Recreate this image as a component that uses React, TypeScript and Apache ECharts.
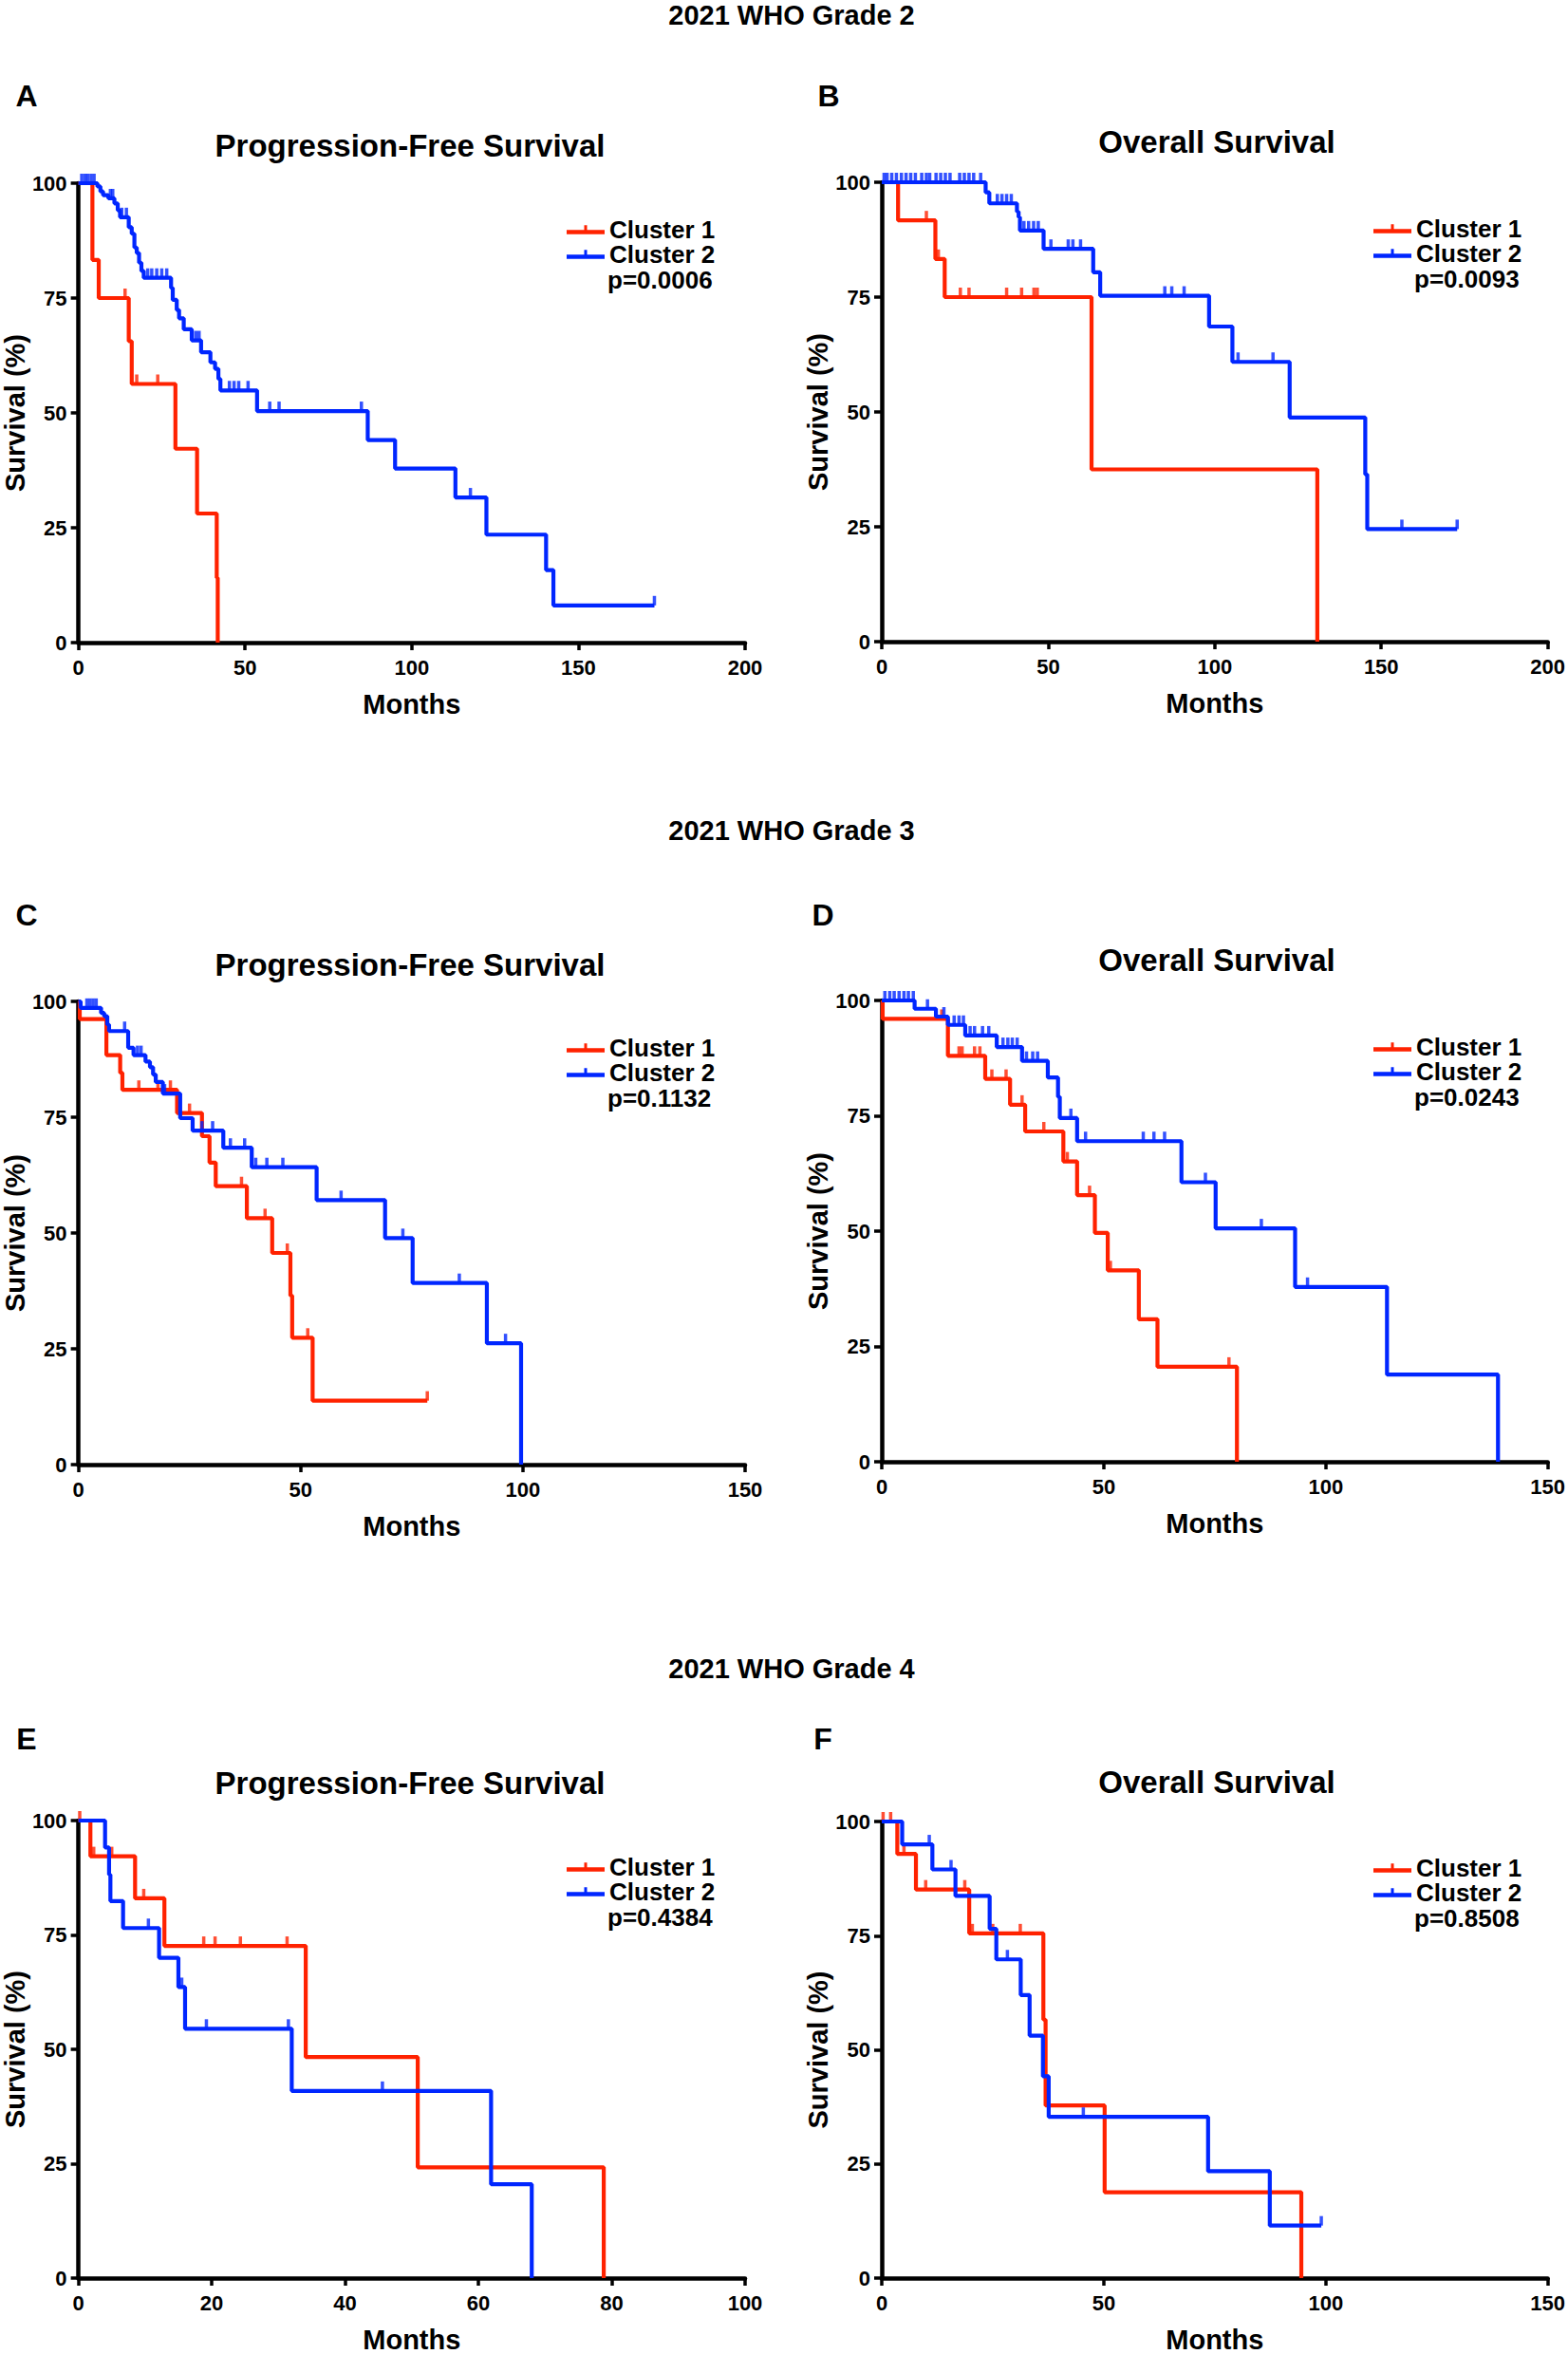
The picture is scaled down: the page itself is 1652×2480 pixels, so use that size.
import React, { useEffect, useRef } from "react";
import * as echarts from "echarts";

const FONT = '"Liberation Sans", Arial, Helvetica, sans-serif';
const RED = "#FF2200";
const BLUE = "#0026FF";

// ---------- text content ----------
const gradeHeadings = ["2021 WHO Grade 2", "2021 WHO Grade 3", "2021 WHO Grade 4"];
const panelLetters = ["A", "B", "C", "D", "E", "F"];
const panelTitles = [
  "Progression-Free Survival",
  "Overall Survival",
  "Progression-Free Survival",
  "Overall Survival",
  "Progression-Free Survival",
  "Overall Survival",
];
const pValues = ["p=0.0006", "p=0.0093", "p=0.1132", "p=0.0243", "p=0.4384", "p=0.8508"];
const seriesNames = ["Cluster 1", "Cluster 2"];
const xAxisTitle = "Months";
const yAxisTitle = "Survival (%)";
const xMaxes = [200, 200, 150, 150, 100, 150];
const xIntervals = [50, 50, 50, 50, 20, 50];
const yMax = 100;
const yInterval = 25;

// ---------- Kaplan-Meier step points [month, survival %] ----------
// A: Grade 2 PFS
const aCluster1 = [[0, 100], [4.2, 83.3], [6.1, 75], [15.1, 65.6], [16, 56.3], [29.1, 42.2], [35.6, 28.1], [41.5, 14.1], [41.8, 0]];
const aCluster1Censor = [[14, 75], [17.5, 56.3], [23.8, 56.3]];
const aCluster2 = [[0, 100], [5.7, 99.3], [6.6, 98.2], [7.4, 97.4], [9, 96.7], [10.8, 95.6], [11.8, 94.1], [12.5, 92.6], [15.1, 90.4], [16, 89], [16.8, 86], [17.5, 84.8], [18.2, 82.7], [18.9, 80.9], [19.6, 79.4], [27.8, 77.2], [28.3, 74.6], [29.5, 72.4], [30.2, 70.6], [31.6, 68.2], [34, 65.8], [36.8, 63.2], [39.6, 61], [41, 59.6], [42, 57.4], [42.6, 54.9], [53.6, 50.4], [86.8, 44.1], [95, 37.9], [113.1, 31.6], [122.4, 23.5], [140.3, 15.8], [142.5, 8.1], [172.8, 8.1]];
const aCluster2Censor = [[1, 100], [2, 100], [2.8, 100], [3.8, 100], [4.7, 100], [9.6, 96.7], [10.3, 96.7], [13, 92.6], [14.4, 92.6], [20.8, 79.4], [22, 79.4], [23.5, 79.4], [25, 79.4], [26.5, 79.4], [35.2, 65.8], [36.2, 65.8], [45.3, 54.9], [46.7, 54.9], [48.1, 54.9], [50.9, 54.9], [57.4, 50.4], [60.2, 50.4], [84.9, 50.4], [117.6, 31.6], [172.8, 8.1]];

// B: Grade 2 OS
const bCluster1 = [[0, 100], [4.9, 91.7], [16.1, 83.3], [18.9, 75], [63, 37.5], [130.8, 0]];
const bCluster1Censor = [[13.4, 91.7], [17, 83.3], [23.6, 75], [26.2, 75], [37.5, 75], [42, 75], [45.7, 75], [46.7, 75]];
const bCluster2 = [[0, 100], [31.2, 97.8], [32.3, 95.4], [40.6, 93.6], [41.1, 92.4], [41.5, 89.5], [48.6, 85.5], [63.5, 80.4], [65.6, 75.3], [98.3, 68.6], [105.3, 60.9], [122.5, 48.8], [145.2, 36.4], [145.8, 24.5], [172.8, 24.5]];
const bCluster2Censor = [[0.7, 100], [1.6, 100], [3, 100], [4.4, 100], [5.9, 100], [7.3, 100], [8.7, 100], [10.1, 100], [12, 100], [13.4, 100], [14.4, 100], [16.3, 100], [17.7, 100], [19.1, 100], [20.5, 100], [23.4, 100], [24.8, 100], [26.2, 100], [27.6, 100], [29.7, 100], [34.7, 95.4], [36.1, 95.4], [37.5, 95.4], [38.9, 95.4], [42.7, 89.5], [44.1, 89.5], [45.6, 89.5], [47, 89.5], [50.8, 85.5], [56, 85.5], [57.4, 85.5], [59.7, 85.5], [85, 75.3], [87.1, 75.3], [90.8, 75.3], [107, 60.9], [117.5, 60.9], [156.2, 24.5], [172.8, 24.5]];

// C: Grade 3 PFS
const cCluster1 = [[0, 100], [0.3, 96.2], [6.3, 88.4], [9.4, 84.6], [9.9, 80.9], [22.2, 75.9], [27.8, 70.9], [29.5, 65.2], [30.9, 60.1], [37.9, 53.2], [43.6, 45.7], [47.7, 36.5], [48.1, 27.4], [52.7, 13.8], [78.5, 13.8]];
const cCluster1Censor = [[13.6, 80.9], [17.9, 80.9], [20.7, 80.9], [25, 75.9], [36.7, 60.1], [42, 53.2], [47, 45.7], [51.6, 27.4], [78.5, 13.8]];
const cCluster2 = [[0, 100], [0.5, 98.6], [5.1, 97.5], [5.8, 96.8], [6.5, 95], [6.9, 93.6], [11.2, 90], [12.4, 88.4], [15.1, 87], [16.1, 85.8], [16.8, 84.2], [17.4, 82.6], [19, 80.1], [22.9, 74.8], [25.7, 72.1], [32.6, 68.4], [39, 64.2], [53.6, 57.1], [69, 48.9], [75.2, 39.2], [91.9, 26.2], [99.6, 0]];
const cCluster2Censor = [[1.9, 98.6], [2.6, 98.6], [3.3, 98.6], [4, 98.6], [10.4, 93.6], [13.3, 88.4], [14.1, 88.4], [19.4, 80.1], [27.8, 72.1], [30.2, 72.1], [34.2, 68.4], [37.4, 68.4], [39.9, 64.2], [42.4, 64.2], [46, 64.2], [59.1, 57.1], [73, 48.9], [85.7, 39.2], [96.1, 26.2]];

// D: Grade 3 OS
const dCluster1 = [[0, 100], [0.2, 96], [14.9, 88], [23.3, 83], [28.9, 77.4], [32.3, 71.6], [40.9, 65.1], [44, 57.8], [48, 49.6], [50.9, 41.5], [57.9, 30.9], [62.1, 20.6], [80, 0]];
const dCluster1Censor = [[13.5, 96], [17.4, 88], [18.1, 88], [20.9, 88], [22.1, 88], [24.8, 83], [28, 83], [31.6, 77.4], [36.5, 71.6], [41.8, 65.1], [46.8, 57.8], [51.5, 41.5], [78.2, 20.6]];
const dCluster2 = [[0, 100], [7.4, 98.2], [12.2, 96.5], [14.9, 94.7], [18.8, 92.4], [25.9, 89.9], [31.6, 86.9], [37.4, 83.3], [39.7, 79.1], [40.1, 74.5], [44, 69.5], [67.5, 60.6], [75.2, 50.6], [93.1, 37.9], [113.8, 18.9], [138.8, 0]];
const dCluster2Censor = [[0.7, 100], [1.8, 100], [2.8, 100], [3.9, 100], [5, 100], [6, 100], [7.1, 100], [10.3, 98.2], [14, 96.5], [16.3, 94.7], [17.4, 94.7], [18.4, 94.7], [19.9, 92.4], [20.9, 92.4], [22.7, 92.4], [24.1, 92.4], [27.3, 89.9], [28.4, 89.9], [29.4, 89.9], [30.5, 89.9], [32.6, 86.9], [34, 86.9], [35.1, 86.9], [42.6, 74.5], [45.9, 69.5], [58.9, 69.5], [61.3, 69.5], [63.7, 69.5], [72.9, 60.6], [85.5, 50.6], [95.9, 37.9]];

// E: Grade 4 PFS
const eCluster1 = [[0, 100], [1.8, 92.2], [8.5, 83], [12.9, 72.6], [34.1, 48.3], [50.9, 24.2], [78.8, 0]];
const eCluster1Censor = [[0.2, 100], [2.3, 92.2], [5, 92.2], [9.8, 83], [18.8, 72.6], [20.5, 72.6], [24.3, 72.6], [31.3, 72.6]];
const eCluster2 = [[0, 100], [4, 94.1], [4.6, 88.2], [4.8, 82.4], [6.7, 76.5], [12.1, 70], [15, 63.6], [16, 54.5], [32, 40.9], [61.9, 20.5], [68, 0]];
const eCluster2Censor = [[10.5, 76.5], [15.5, 63.6], [19.2, 54.5], [31.5, 54.5], [45.6, 40.9]];

// F: Grade 4 OS
const fCluster1 = [[0, 100], [3.5, 92.9], [7.7, 85.1], [19.7, 75.5], [36.4, 56.6], [36.9, 37.8], [50.2, 18.8], [94.5, 0]];
const fCluster1Censor = [[0.3, 100], [2, 100], [5, 92.9], [9.9, 85.1], [18.7, 85.1], [20.4, 75.5], [25, 75.5], [31.2, 75.5]];
const fCluster2 = [[0, 100], [4.6, 95], [11.4, 89.5], [16.6, 83.7], [24.3, 76.5], [25.8, 69.8], [31.3, 62], [33.3, 53.1], [36.3, 44.2], [37.6, 35.3], [73.5, 23.4], [87.4, 11.5], [99, 11.5]];
const fCluster2Censor = [[10.7, 95], [15.6, 89.5], [28.3, 69.8], [45.4, 35.3], [99, 11.5]];

const panelCurves = [
  [aCluster1, aCluster2],
  [bCluster1, bCluster2],
  [cCluster1, cCluster2],
  [dCluster1, dCluster2],
  [eCluster1, eCluster2],
  [fCluster1, fCluster2],
];
const panelCensors = [
  [aCluster1Censor, aCluster2Censor],
  [bCluster1Censor, bCluster2Censor],
  [cCluster1Censor, cCluster2Censor],
  [dCluster1Censor, dCluster2Censor],
  [eCluster1Censor, eCluster2Censor],
  [fCluster1Censor, fCluster2Censor],
];

// ---------- layout (pixels) ----------
const W = 1652;
const H = 2480;
const plotLeft = [79, 929, 79, 929, 79, 929];
const plotTop = [193, 192, 1055, 1054, 1918, 1919];
const plotHeight = [484, 484, 488, 486, 487, 486];
const plotWidth = 706;
const headingY = [16, 875, 1758];
const letterX = [28, 873, 28, 867, 28, 867];
const letterY = [101, 101, 964, 964, 1832, 1832];
const titleY = [153, 149, 1016, 1011, 1878, 1877];
const colors = [RED, BLUE];
const ICON = "path://M0,5H40V9.5H0Z M18.5,0H21.5V5H18.5Z";

function buildOption() {
  const grid: any[] = [];
  const xAxis: any[] = [];
  const yAxis: any[] = [];
  const series: any[] = [];
  const legend: any[] = [];
  const graphic: any[] = [];

  const labelStyle = { fontSize: 22, fontWeight: "bold", fontFamily: FONT, color: "#000" };
  const nameStyle = { fontSize: 29, fontWeight: "bold", fontFamily: FONT, color: "#000" };

  for (let i = 0; i < 6; i++) {
    const L = plotLeft[i];
    const T = plotTop[i];
    grid.push({ left: L, top: T, width: plotWidth, height: plotHeight[i], containLabel: false });
    xAxis.push({
      type: "value",
      gridIndex: i,
      min: 0,
      max: xMaxes[i],
      interval: xIntervals[i],
      axisLine: { show: true, onZero: false, lineStyle: { color: "#000", width: 4.5 } },
      axisTick: { show: true, length: 8, lineStyle: { color: "#000", width: 3.5 } },
      axisLabel: { ...labelStyle, margin: 15 },
      splitLine: { show: false },
      name: xAxisTitle,
      nameLocation: "middle",
      nameGap: 50,
      nameTextStyle: nameStyle,
    });
    yAxis.push({
      type: "value",
      gridIndex: i,
      min: 0,
      max: yMax,
      interval: yInterval,
      axisLine: { show: true, onZero: false, lineStyle: { color: "#000", width: 4.5 } },
      axisTick: { show: true, length: 8, lineStyle: { color: "#000", width: 3.5 } },
      axisLabel: { ...labelStyle, margin: 12 },
      splitLine: { show: false },
      name: yAxisTitle,
      nameLocation: "middle",
      nameGap: 49,
      nameTextStyle: nameStyle,
    });
    for (let k = 0; k < 2; k++) {
      series.push({
        type: "line",
        name: seriesNames[k],
        xAxisIndex: i,
        yAxisIndex: i,
        data: panelCurves[i][k],
        step: "end",
        symbol: "none",
        showSymbol: false,
        clip: false,
        z: 3 + k,
        lineStyle: { color: colors[k], width: 4.2 },
        itemStyle: { color: colors[k] },
      });
      series.push({
        type: "scatter",
        name: seriesNames[k],
        xAxisIndex: i,
        yAxisIndex: i,
        data: panelCensors[i][k],
        symbol: "rect",
        symbolSize: [3.5, 10],
        symbolOffset: [0, -5],
        clip: false,
        z: 3 + k,
        itemStyle: { color: colors[k] },
      });
    }
    legend.push({
      left: L + 518,
      top: T + 36,
      orient: "vertical",
      padding: 0,
      itemGap: 0,
      itemWidth: 40,
      itemHeight: 9.5,
      icon: ICON,
      selectedMode: false,
      data: seriesNames,
      itemStyle: { borderWidth: 0 },
      textStyle: { fontSize: 26, fontWeight: "bold", fontFamily: FONT, color: "#000", lineHeight: 26 },
    });
    graphic.push({
      type: "text",
      x: L + 561,
      y: T + 102,
      style: { text: pValues[i], fontSize: 26, fontWeight: "bold", fontFamily: FONT, fill: "#000", align: "left", verticalAlign: "middle" },
    });
    graphic.push({
      type: "text",
      x: letterX[i],
      y: letterY[i],
      style: { text: panelLetters[i], fontSize: 32, fontWeight: "bold", fontFamily: FONT, fill: "#000", align: "center", verticalAlign: "middle" },
    });
    graphic.push({
      type: "text",
      x: L + plotWidth / 2,
      y: titleY[i],
      style: { text: panelTitles[i], fontSize: 33, fontWeight: "bold", fontFamily: FONT, fill: "#000", align: "center", verticalAlign: "middle" },
    });
  }
  for (let r = 0; r < 3; r++) {
    graphic.push({
      type: "text",
      x: 834,
      y: headingY[r],
      style: { text: gradeHeadings[r], fontSize: 29, fontWeight: "bold", fontFamily: FONT, fill: "#000", align: "center", verticalAlign: "middle" },
    });
  }

  return {
    animation: false,
    backgroundColor: "#fff",
    grid,
    xAxis,
    yAxis,
    series,
    legend,
    graphic,
  };
}

export default function App() {
  const ref = useRef<HTMLDivElement>(null);
  useEffect(() => {
    document.body.style.margin = "0";
    if (!ref.current) return;
    const chart = echarts.init(ref.current, undefined, { renderer: "svg", width: W, height: H });
    chart.setOption(buildOption());
    return () => chart.dispose();
  }, []);
  return <div ref={ref} style={{ width: W, height: H, background: "#fff" }} />;
}
